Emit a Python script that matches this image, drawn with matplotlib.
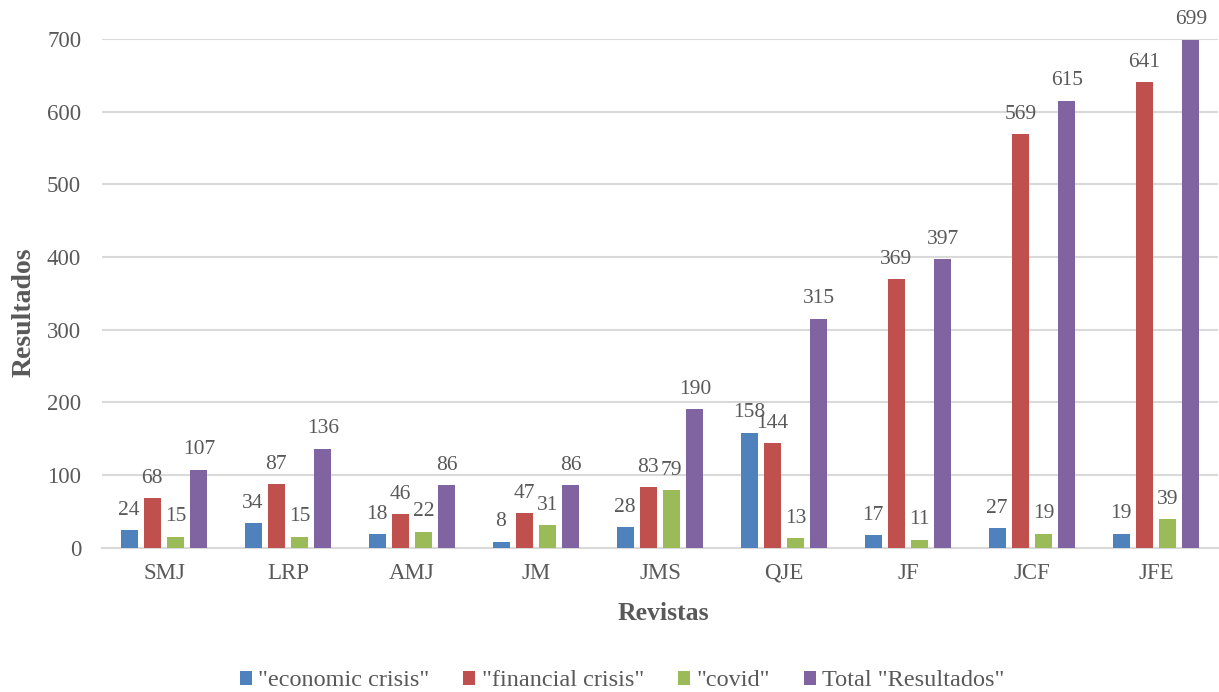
import matplotlib
matplotlib.use("Agg")
import matplotlib.pyplot as plt
import numpy as np

plt.rcParams['font.family'] = ['Liberation Serif', 'DejaVu Serif']

journals = ["SMJ", "LRP", "AMJ", "JM", "JMS", "QJE", "JF", "JCF", "JFE"]
economic_crisis = [24, 34, 18, 8, 28, 158, 17, 27, 19]
financial_crisis = [68, 87, 46, 47, 83, 144, 369, 569, 641]
covid = [15, 15, 22, 31, 79, 13, 11, 19, 39]
total_results = [107, 136, 86, 86, 190, 315, 397, 615, 699]

series_names = ['"economic crisis"', '"financial crisis"', '"covid"', 'Total "Resultados"']
series_values = [economic_crisis, financial_crisis, covid, total_results]
colors = ["#4F81BD", "#C0504D", "#9BBB59", "#8064A2"]
text_color = "#595959"
grid_color = "#D9D9D9"

fig = plt.figure(figsize=(12.19, 6.92), dpi=100)
ax = fig.add_axes([102 / 1219, 1 - 547.5 / 692, 1116 / 1219, (547.5 - 39) / 692])

x = np.arange(len(journals))
step = 0.188
width = 0.137
offsets = (np.arange(4) - 1.5) * step

for vals, name, col, off in zip(series_values, series_names, colors, offsets):
    bars = ax.bar(x + off, vals, width, color=col, label=name, zorder=3)
    for b, v in zip(bars, vals):
        ax.annotate(str(v), (b.get_x() + b.get_width() / 2, b.get_height()),
                    xytext=(0, 11), textcoords="offset points",
                    ha="center", va="baseline", fontsize=15.5,
                    color=text_color, annotation_clip=False, clip_on=False)

ax.set_xlim(-0.5, len(journals) - 0.5)
ax.set_ylim(0, 700)
ax.set_yticks(np.arange(0, 701, 100))
ax.set_xticks(x)
ax.set_xticklabels(journals)
ax.yaxis.grid(True, color=grid_color, linewidth=1.5, zorder=0)
ax.set_axisbelow(True)
for s in ["top", "right", "left"]:
    ax.spines[s].set_visible(False)
ax.spines["bottom"].set_color(grid_color)
ax.spines["bottom"].set_linewidth(1.5)
ax.tick_params(axis="x", length=0, pad=11, labelsize=16.5, labelcolor=text_color)
ax.tick_params(axis="y", length=0, pad=15, labelsize=16.5, labelcolor=text_color)

fig.text(663 / 1219, 1 - 613 / 692, "Revistas", ha="center", va="center",
         fontsize=18.5, fontweight="bold", color=text_color)
fig.text(24 / 1219, 1 - 312 / 692, "Resultados", ha="center", va="center",
         rotation=90, fontsize=20, fontweight="bold", color=text_color)

fig.legend(loc="center", bbox_to_anchor=(622 / 1219, 1 - 681 / 692), ncol=4,
           frameon=False, fontsize=17.5, labelcolor=text_color,
           handlelength=0.5, handleheight=0.5, handletextpad=0.25,
           columnspacing=1.4, borderaxespad=0)

fig.savefig("out.png", dpi=100)
